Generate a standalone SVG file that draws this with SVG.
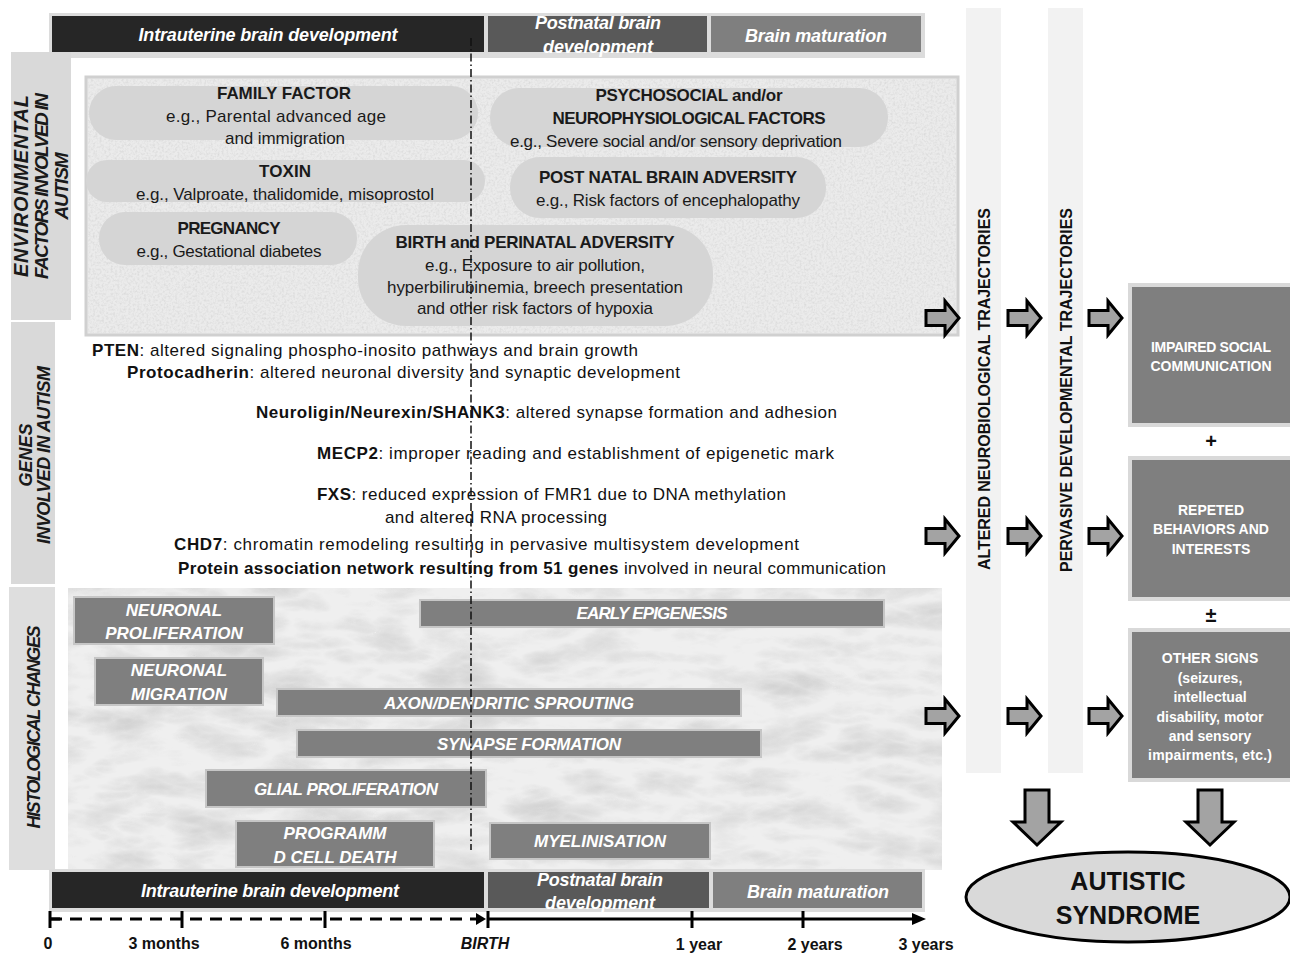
<svg xmlns="http://www.w3.org/2000/svg" width="1290" height="954" viewBox="0 0 1290 954">
<style>
text{font-family:"Liberation Sans",Arial,sans-serif;}
.hd{font-size:18px;font-weight:bold;font-style:italic;fill:#fff;text-anchor:middle;}
.lbl{font-size:18px;font-weight:bold;font-style:italic;fill:#1a1a1a;text-anchor:middle;}
.ot{font-size:17px;fill:#1a1a1a;text-anchor:middle;}
.otb{font-size:17px;font-weight:bold;fill:#1a1a1a;text-anchor:middle;}
.gn{font-size:17px;fill:#111;}
.gn tspan.b{font-weight:bold;}
.hb{fill:#7f7f7f;stroke:#c6c6c6;stroke-width:2;}
.ht{font-size:17px;font-weight:bold;font-style:italic;fill:#fff;text-anchor:middle;}
.pill{fill:#d5d5d5;}
.bx{fill:#7f7f7f;stroke:#d9d9d9;stroke-width:4;}
.bt{font-size:14px;font-weight:bold;fill:#fff;text-anchor:middle;}
.band{fill:#f2f2f2;}
.bandt{font-size:16px;font-weight:bold;fill:#111;text-anchor:middle;}
.arr{fill:#a3a3a3;stroke:#000;stroke-width:3;stroke-linejoin:miter;}
.tl{font-size:16px;font-weight:bold;fill:#111;text-anchor:middle;}
.big{font-size:25px;font-weight:bold;fill:#111;text-anchor:middle;}
</style>
<defs>
<filter id="speckle" x="0" y="0" width="100%" height="100%">
<feTurbulence type="fractalNoise" baseFrequency="0.45" numOctaves="2" seed="4" result="n"/>
<feColorMatrix in="n" type="matrix" values="0 0 0 0 0.6  0 0 0 0 0.6  0 0 0 0 0.6  1.1 0 0 0 -0.45"/>
<feComposite in2="SourceGraphic" operator="in"/>
</filter>
<filter id="marble" x="0" y="0" width="100%" height="100%">
<feTurbulence type="turbulence" baseFrequency="0.012 0.03" numOctaves="4" seed="7" result="n"/>
<feColorMatrix in="n" type="matrix" values="0 0 0 0 0.45  0 0 0 0 0.45  0 0 0 0 0.45  1.4 0 0 0 -0.25"/>
<feComposite in2="SourceGraphic" operator="in"/>
</filter>
<path id="ra" d="M-33,-7.5 H-14 V-17 L0,0 L-14,17 V7.5 H-33 Z"/>
<path id="da" d="M-12,-55 H12 V-23 H24 L0,0 L-24,-23 H-12 Z"/>
</defs>
<rect width="1290" height="954" fill="#fff"/>

<g id="top-header">
<rect x="49" y="13" width="876" height="45" fill="#dcdcdc"/>
<rect x="52" y="16" width="432" height="36" fill="#262626"/>
<rect x="488" y="16" width="219" height="36" fill="#595959"/>
<rect x="711" y="16" width="210" height="36" fill="#7f7f7f"/>
<text class="hd" x="268" y="41" textLength="259">Intrauterine brain development</text>
<text class="hd" x="598" y="29" textLength="126">Postnatal brain</text>
<text class="hd" x="598" y="53" textLength="110">development</text>
<text class="hd" x="816" y="42" textLength="142">Brain maturation</text>
</g>

<g id="env-label">
<rect x="11" y="52" width="60" height="268" fill="#d9d9d9"/>
<text class="lbl" style="font-size:20px" transform="translate(28,186) rotate(-90)" textLength="182">ENVIRONMENTAL</text>
<text class="lbl" style="font-size:19px" transform="translate(48,186) rotate(-90)" textLength="186">FACTORS INVOLVED IN</text>
<text class="lbl" style="font-size:19px" transform="translate(68,186) rotate(-90)" textLength="67">AUTISM</text>
</g>

<g id="env-box">
<rect x="86" y="77" width="872" height="258" fill="#ebebeb" stroke="#d0d0d0" stroke-width="3"/>
<rect x="88" y="79" width="868" height="254" fill="#000" filter="url(#speckle)"/>
</g>

<g id="family-factor">
<rect class="pill" x="89" y="86" width="389" height="54" rx="27"/>
<text class="otb" x="284" y="99" textLength="134">FAMILY FACTOR</text>
<text class="ot" x="276" y="122" textLength="220">e.g., Parental  advanced age</text>
<text class="ot" x="285" y="144" textLength="120">and immigration</text>
</g>
<g id="toxin">
<rect class="pill" x="86" y="160" width="399" height="42" rx="21"/>
<text class="otb" x="285" y="177" textLength="52">TOXIN</text>
<text class="ot" x="285" y="200" textLength="298">e.g., Valproate, thalidomide, misoprostol</text>
</g>
<g id="pregnancy">
<rect class="pill" x="99" y="212" width="258" height="53" rx="26"/>
<text class="otb" x="229" y="234" textLength="103">PREGNANCY</text>
<text class="ot" x="229" y="257" textLength="185">e.g., Gestational diabetes</text>
</g>
<g id="birth">
<rect class="pill" x="358" y="225" width="355" height="101" rx="48"/>
<text class="otb" x="535" y="248" textLength="279">BIRTH and PERINATAL ADVERSITY</text>
<text class="ot" x="535" y="271" textLength="220">e.g., Exposure to air pollution,</text>
<text class="ot" x="535" y="293" textLength="296">hyperbilirubinemia, breech presentation</text>
<text class="ot" x="535" y="314" textLength="236">and other risk factors of hypoxia</text>
</g>
<g id="psychosocial">
<rect class="pill" x="490" y="88" width="398" height="59" rx="29"/>
<text class="otb" x="689" y="101" textLength="187">PSYCHOSOCIAL and/or</text>
<text class="otb" x="689" y="124" textLength="273">NEUROPHYSIOLOGICAL FACTORS</text>
<text class="ot" x="676" y="147" textLength="332">e.g., Severe social and/or sensory deprivation</text>
</g>
<g id="post-natal">
<rect class="pill" x="510" y="157" width="316" height="61" rx="30"/>
<text class="otb" x="668" y="183" textLength="258">POST NATAL BRAIN ADVERSITY</text>
<text class="ot" x="668" y="206" textLength="264">e.g.,  Risk factors of encephalopathy</text>
</g>

<g id="genes-label">
<rect x="11" y="322" width="44" height="262" fill="#d9d9d9"/>
<text class="lbl" transform="translate(32,455) rotate(-90)">GENES</text>
<text class="lbl" transform="translate(50,455) rotate(-90)" textLength="178">INVOLVED IN AUTISM</text>
</g>

<g id="genes">
<text class="gn" x="92" y="356" textLength="546"><tspan class="b">PTEN</tspan>: altered signaling phospho-inosito pathways and brain growth</text>
<text class="gn" x="127" y="378" textLength="553"><tspan class="b">Protocadherin</tspan>: altered neuronal diversity and synaptic development</text>
<text class="gn" x="256" y="418" textLength="581"><tspan class="b">Neuroligin/Neurexin/SHANK3</tspan>: altered synapse formation and adhesion</text>
<text class="gn" x="317" y="459" textLength="517"><tspan class="b">MECP2</tspan>: improper reading and establishment of epigenetic mark</text>
<text class="gn" x="317" y="500" textLength="469"><tspan class="b">FXS</tspan>: reduced expression of FMR1 due to DNA methylation</text>
<text class="gn" x="385" y="523" textLength="222">and altered RNA processing</text>
<text class="gn" x="174" y="550" textLength="625"><tspan class="b">CHD7</tspan>: chromatin remodeling resulting in pervasive multisystem development</text>
<text class="gn" x="178" y="574" textLength="708"><tspan class="b">Protein association network resulting from 51 genes</tspan> involved in neural communication</text>
</g>

<g id="histo-label">
<rect x="9" y="587" width="46" height="283" fill="#dedede"/>
<text class="lbl" transform="translate(40,727) rotate(-90)" textLength="203">HISTOLOGICAL CHANGES</text>
</g>

<g id="histo-bg">
<rect x="68" y="588" width="874" height="282" fill="#efefef"/>
<rect x="68" y="588" width="874" height="282" fill="#000" filter="url(#marble)" opacity="0.55"/>
</g>

<g id="neuronal-proliferation">
<rect class="hb" x="74" y="597" width="200" height="47"/>
<text class="ht" x="174" y="616">NEURONAL</text>
<text class="ht" x="174" y="639">PROLIFERATION</text>
</g>
<g id="early-epigenesis">
<rect class="hb" x="420" y="600" width="464" height="27"/>
<text class="ht" x="652" y="619" textLength="151">EARLY EPIGENESIS</text>
</g>
<g id="neuronal-migration">
<rect class="hb" x="95" y="658" width="168" height="47"/>
<text class="ht" x="179" y="676">NEURONAL</text>
<text class="ht" x="179" y="700">MIGRATION</text>
</g>
<g id="axon-sprouting">
<rect class="hb" x="277" y="689" width="464" height="27"/>
<text class="ht" x="509" y="709" textLength="250">AXON/DENDRITIC SPROUTING</text>
</g>
<g id="synapse-formation">
<rect class="hb" x="297" y="730" width="464" height="27"/>
<text class="ht" x="529" y="750" textLength="184">SYNAPSE FORMATION</text>
</g>
<g id="glial-proliferation">
<rect class="hb" x="206" y="770" width="280" height="37"/>
<text class="ht" x="346" y="795" textLength="184">GLIAL PROLIFERATION</text>
</g>
<g id="programmed-cell-death">
<rect class="hb" x="236" y="821" width="198" height="46"/>
<text class="ht" x="335" y="839">PROGRAMM</text>
<text class="ht" x="335" y="863">D CELL DEATH</text>
</g>
<g id="myelinisation">
<rect class="hb" x="490" y="823" width="220" height="36"/>
<text class="ht" x="600" y="847" textLength="132">MYELINISATION</text>
</g>

<g id="birth-line">
<line x1="471" y1="38" x2="471" y2="850" stroke="#111" stroke-width="1.5" stroke-dasharray="8 3 1.5 3"/>
</g>

<g id="bottom-header">
<rect x="49" y="869" width="876" height="43" fill="#dcdcdc"/>
<rect x="52" y="872" width="432" height="36" fill="#262626"/>
<rect x="488" y="872" width="221" height="36" fill="#595959"/>
<rect x="713" y="872" width="209" height="36" fill="#7f7f7f"/>
<text class="hd" x="270" y="897" textLength="258">Intrauterine brain development</text>
<text class="hd" x="600" y="886" textLength="126">Postnatal brain</text>
<text class="hd" x="600" y="909" textLength="110">development</text>
<text class="hd" x="818" y="898" textLength="142">Brain maturation</text>
</g>

<g id="timeline">
<line x1="50" y1="919" x2="476" y2="919" stroke="#000" stroke-width="3" stroke-dasharray="12 8"/>
<polygon points="476,913 486,919 476,925" fill="#000"/>
<line x1="488" y1="919" x2="914" y2="919" stroke="#000" stroke-width="3"/>
<polygon points="912,913 926,919 912,925" fill="#000"/>
<g stroke="#000" stroke-width="3">
<line x1="50" y1="911" x2="50" y2="928"/>
<line x1="50" y1="919" x2="60" y2="919"/>
<line x1="182" y1="911" x2="182" y2="928"/>
<line x1="325" y1="911" x2="325" y2="928"/>
<line x1="488" y1="911" x2="488" y2="928"/>
<line x1="692" y1="911" x2="692" y2="928"/>
<line x1="803" y1="911" x2="803" y2="928"/>
</g>
<text class="tl" x="48" y="949">0</text>
<text class="tl" x="164" y="949">3 months</text>
<text class="tl" x="316" y="949">6 months</text>
<text class="tl" x="485" y="949" font-style="italic">BIRTH</text>
<text class="tl" x="699" y="950">1 year</text>
<text class="tl" x="815" y="950">2 years</text>
<text class="tl" x="926" y="950">3 years</text>
</g>

<g id="neurobiological-band">
<rect class="band" x="966" y="8" width="35" height="765"/>
<text class="bandt" transform="translate(990,389) rotate(-90)" textLength="362">ALTERED NEUROBIOLOGICAL TRAJECTORIES</text>
</g>
<g id="developmental-band">
<rect class="band" x="1048" y="8" width="35" height="765"/>
<text class="bandt" transform="translate(1072,390) rotate(-90)" textLength="364">PERVASIVE DEVELOPMENTAL TRAJECTORIES</text>
</g>

<g id="impaired-social">
<rect class="bx" x="1130" y="285" width="165" height="140"/>
<text class="bt" x="1211" y="352" textLength="120">IMPAIRED SOCIAL</text>
<text class="bt" x="1211" y="371">COMMUNICATION</text>
</g>
<text x="1211" y="448" font-family="Liberation Sans, sans-serif" font-size="20" font-weight="bold" text-anchor="middle" fill="#111">+</text>
<g id="repeated-behaviors">
<rect class="bx" x="1130" y="458" width="165" height="141"/>
<text class="bt" x="1211" y="515">REPETED</text>
<text class="bt" x="1211" y="534">BEHAVIORS AND</text>
<text class="bt" x="1211" y="554">INTERESTS</text>
</g>
<text x="1211" y="622" font-family="Liberation Sans, sans-serif" font-size="20" font-weight="bold" text-anchor="middle" fill="#111">±</text>
<g id="other-signs">
<rect class="bx" x="1130" y="630" width="165" height="150"/>
<text class="bt" x="1210" y="663">OTHER SIGNS</text>
<text class="bt" x="1210" y="683">(seizures,</text>
<text class="bt" x="1210" y="702">intellectual</text>
<text class="bt" x="1210" y="722">disability, motor</text>
<text class="bt" x="1210" y="741">and sensory</text>
<text class="bt" x="1210" y="760" textLength="124">impairments, etc.)</text>
</g>

<g id="autistic-syndrome">
<ellipse cx="1128" cy="897" rx="162" ry="45" fill="#d9d9d9" stroke="#000" stroke-width="3"/>
<text class="big" x="1128" y="890">AUTISTIC</text>
<text class="big" x="1128" y="924">SYNDROME</text>
</g>

<g id="connectors">
<use href="#ra" class="arr" x="959" y="318"/>
<use href="#ra" class="arr" x="1041" y="318"/>
<use href="#ra" class="arr" x="1122" y="318"/>
<use href="#ra" class="arr" x="959" y="536"/>
<use href="#ra" class="arr" x="1041" y="536"/>
<use href="#ra" class="arr" x="1122" y="536"/>
<use href="#ra" class="arr" x="959" y="716"/>
<use href="#ra" class="arr" x="1041" y="716"/>
<use href="#ra" class="arr" x="1122" y="716"/>
<use href="#da" class="arr" x="1037" y="845"/>
<use href="#da" class="arr" x="1210" y="845"/>
</g>
</svg>
